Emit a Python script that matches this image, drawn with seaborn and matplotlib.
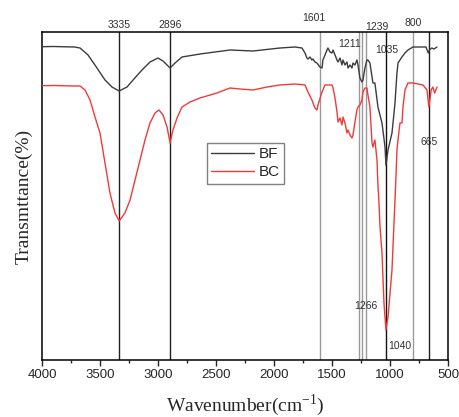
import numpy as np
import pandas as pd
import matplotlib
matplotlib.use("Agg")
import matplotlib.pyplot as plt
import matplotlib.transforms as mtransforms
from matplotlib.ticker import MultipleLocator
import seaborn as sns

# ---- data ----
bf_wn = [4000, 3900, 3800, 3720, 3672, 3603, 3526, 3457, 3397, 3335, 3267, 3215, 3138,
         3069, 3000, 2957, 2896, 2853, 2793, 2638, 2379, 2181, 1948, 1819, 1759, 1733,
         1716, 1707, 1690, 1673, 1664, 1647, 1630, 1604, 1586, 1578, 1543, 1535, 1517,
         1500, 1491, 1474, 1457, 1448, 1431, 1414, 1405, 1388, 1371, 1362, 1345, 1328,
         1319, 1302, 1285, 1276, 1259, 1242, 1233, 1216, 1199, 1190, 1173, 1147, 1130,
         1104, 1069, 1043, 1035, 1017, 983, 974, 957, 940, 931, 897, 871, 845, 802, 741,
         690, 670, 660, 640, 620, 595]
bf_py = [46.7, 46.5, 46.8, 47, 48, 55, 68, 80, 87, 91, 87, 80, 70,
         62, 58, 61, 68, 63, 57, 54, 50, 51, 48, 47, 48, 53,
         58, 59, 57, 60, 59, 62, 63, 67, 68, 60, 50, 48, 52,
         53, 50, 55, 60, 62, 58, 65, 60, 65, 62, 68, 65, 68,
         63, 65, 60, 65, 78, 82, 80, 68, 60, 60, 63, 83, 83,
         107, 123, 147, 165, 150, 133, 123, 103, 73, 63, 57, 53, 50, 47, 47,
         47, 53, 50, 48, 49, 47]

bc_wn = [4000, 3900, 3800, 3720, 3672, 3629, 3586, 3543, 3500, 3457, 3414, 3371, 3335,
         3285, 3241, 3198, 3155, 3112, 3069, 3026, 2991, 2957, 2922, 2896, 2871, 2836,
         2793, 2724, 2638, 2492, 2379, 2293, 2181, 2060, 1948, 1819, 1733, 1707, 1673,
         1647, 1630, 1621, 1586, 1560, 1500, 1491, 1474, 1457, 1448, 1431, 1414, 1405,
         1388, 1371, 1362, 1345, 1328, 1319, 1302, 1285, 1276, 1259, 1242, 1233, 1216,
         1199, 1190, 1173, 1155, 1147, 1130, 1112, 1104, 1095, 1086, 1069, 1052, 1035,
         1017, 983, 957, 948, 940, 931, 914, 897, 888, 871, 845, 802, 716, 681, 665,
         645, 630, 615, 595]
bc_py = [85.7, 85.5, 85.8, 86, 86, 90, 100, 117, 133, 163, 193, 213, 221,
         213, 200, 180, 160, 140, 123, 113, 110, 115, 127, 143, 130, 118,
         107, 102, 98, 93, 88, 89, 90, 87, 85, 84, 85, 92, 100,
         108, 110, 105, 92, 85, 85, 88, 98, 112, 122, 118, 125, 117,
         123, 133, 130, 135, 138, 135, 122, 110, 107, 105, 100, 92, 88,
         88, 95, 107, 143, 147, 140, 160, 185, 203, 227, 253, 303, 330,
         317, 270, 200, 175, 150, 140, 123, 123, 107, 90, 83, 83, 85, 90, 107,
         90, 87, 93, 87]

# transmittance (%) on the plot's vertical scale
bf_t = [(360 - p) / 3.28 for p in bf_py]
bc_t = [(360 - p) / 3.28 for p in bc_py]

samples = ["BF", "BC"]
peaks = [3335, 2896, 1601, 1266, 1239, 1211, 1035, 800, 665]
peak_labels = ["3335", "2896", "1601", "1266", "1239", "1211", "1035", "800", "665", "1040"]

df = pd.concat([
    pd.DataFrame({"Wavenumber": bf_wn, "T": bf_t, "Sample": "BF"}),
    pd.DataFrame({"Wavenumber": bc_wn, "T": bc_t, "Sample": "BC"}),
], ignore_index=True)

sns.set_style("ticks")
plt.rcParams["mathtext.fontset"] = "custom"
plt.rcParams["mathtext.rm"] = "Liberation Serif"
fig = plt.figure(figsize=(4.59, 4.17), dpi=100)
ax = fig.add_axes([42 / 459, 1 - 360 / 417, 406 / 459, 328 / 417])

# vertical reference lines
line_colors = {3335: "#202020", 2896: "#202020", 1601: "#9a9a9a", 1266: "#9a9a9a",
               1239: "#9a9a9a", 1211: "#9a9a9a", 1035: "#101010", 800: "#9a9a9a",
               665: "#202020"}
for p in peaks:
    ax.axvline(p, color=line_colors[p], lw=1.0, zorder=1)

sns.lineplot(data=df, x="Wavenumber", y="T", hue="Sample", hue_order=samples,
             palette={"BF": "#3c3c3c", "BC": "#f03a3a"}, lw=1.0, ax=ax,
             estimator=None, sort=True, zorder=3)

ax.set_xlim(4000, 500)
ax.set_ylim(0, 100)
ax.set_yticks([])
ax.xaxis.set_major_locator(MultipleLocator(500))
ax.xaxis.set_minor_locator(MultipleLocator(250))
ax.tick_params(axis="x", which="major", direction="out", length=4, width=1,
               labelsize=9.5, pad=2.5)
ax.tick_params(axis="x", which="minor", direction="out", length=2.5, width=1)
for lab in ax.get_xticklabels():
    lab.set_family(["Liberation Sans", "DejaVu Sans"])
for s in ax.spines.values():
    s.set_visible(True)
    s.set_linewidth(1.1)
    s.set_color("black")

ax.set_xlabel("Wavenumber(cm$^{-1}$)", family="Liberation Serif", fontsize=14, labelpad=8)
ax.set_ylabel("Transmttance(%)", family="Liberation Serif", fontsize=14, labelpad=7)

# peak annotations (x in data, y in axes fraction)
trans = mtransforms.blended_transform_factory(ax.transData, ax.transAxes)
def fy(py):
    return (360 - py) / 328
ann = [
    ("3335", 3335, 25),
    ("2896", 2896, 25),
    ("1601", 1660, 18),
    ("1239", 1110, 27),
    ("800", 800, 23),
    ("1211", 1350, 44),
    ("1035", 1025, 50),
    ("665", 665, 142),
    ("1266", 1210, 306),
    ("1040", 920, 346),
]
for txt, x, py in ann:
    ax.text(x, fy(py), txt, transform=trans, ha="center", va="center", fontsize=7.5,
            color="#303030", family=["Liberation Sans", "DejaVu Sans"], clip_on=False,
            zorder=5)

leg = ax.legend(loc="upper left", bbox_to_anchor=(0.406, 0.662), borderaxespad=0,
                frameon=True, fancybox=False, edgecolor="#808080", framealpha=1,
                prop={"family": "Liberation Sans", "size": 11}, handlelength=2.8,
                handletextpad=0.3, borderpad=0.3, labelspacing=0.25, title=None)
leg.get_frame().set_linewidth(1.0)

fig.savefig("out.png", dpi=100)
